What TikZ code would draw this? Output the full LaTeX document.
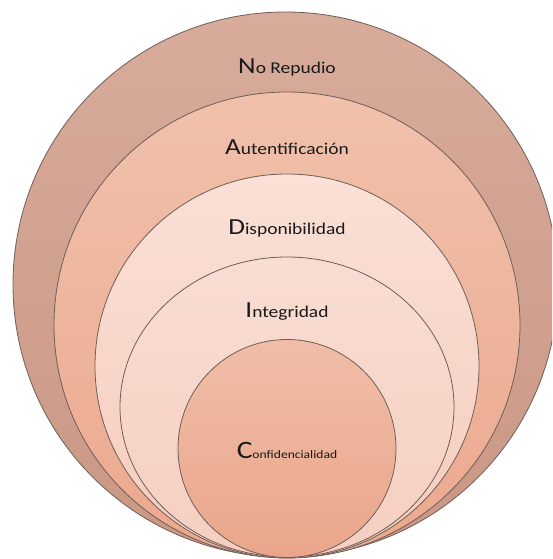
\documentclass[tikz,border=0pt]{standalone}
\usepackage{fontspec}
\usepackage{graphicx}
\setmainfont{Carlito}
\usetikzlibrary{shapes.geometric}

% fills of the nested layers, lighter at the top
\definecolor{ringedge}{HTML}{6E5E58}
\definecolor{oneTop}{HTML}{D8AB9B}
\definecolor{oneBot}{HTML}{CA9784}
\definecolor{twoTop}{HTML}{F1C1AC}
\definecolor{twoBot}{HTML}{EBA88D}
\definecolor{threeTop}{HTML}{FAE0D6}
\definecolor{threeBot}{HTML}{F5CCBD}
\definecolor{fourTop}{HTML}{F9DDD2}
\definecolor{fourBot}{HTML}{F5CFC1}
\definecolor{fiveTop}{HTML}{F0BDA8}
\definecolor{fiveBot}{HTML}{EAA68A}
\definecolor{labeltext}{HTML}{1A1A1A}

% caption: large first letter, smaller rest, set a little wide
\newcommand{\layercaption}[4]{\scalebox{1.18}[1]{{\fontsize{#1}{#1}\selectfont #2}{\fontsize{#3}{#3}\selectfont #4}}}

\begin{document}
\begin{tikzpicture}[x=1pt,y=-1pt,
  layer/.style={circle, draw=ringedge, line width=0.8pt, inner sep=0pt, outer sep=0pt},
  oval/.style={ellipse, draw=ringedge, line width=0.8pt, inner sep=0pt, outer sep=0pt},
  tag/.style={text=labeltext, inner sep=1pt, anchor=center}]
\useasboundingbox (0,0) rectangle (552,559);
\clip (0,0) rectangle (552,559);

% nested layers, all touching at the bottom
\node[layer, minimum size=545pt, top color=oneTop, bottom color=oneBot]
  (norepudio) at (285.5,284.5) {};
\node[layer, minimum size=466pt, top color=twoTop, bottom color=twoBot]
  (autent) at (287,325) {};
\node[layer, minimum size=384pt, top color=threeTop, bottom color=threeBot]
  (dispon) at (287,366) {};
\node[oval, minimum width=334pt, minimum height=300pt, top color=fourTop, bottom color=fourBot]
  (integ) at (287,407) {};
\node[layer, minimum size=218pt, top color=fiveTop, bottom color=fiveBot]
  (confid) at (287,448.5) {};

% layer captions
\node[tag] (lnorep) at (287,67) {\layercaption{23}{N}{16.5}{o Repudio}};
\node[tag] (laut) at (287,147) {\layercaption{23}{A}{16.5}{utentificación}};
\node[tag] (ldis) at (287,228) {\layercaption{23}{D}{16.5}{isponibilidad}};
\node[tag] (lint) at (287,312) {\layercaption{23}{I}{16.5}{ntegridad}};
\node[tag] (lconf) at (287,450) {\layercaption{25}{C}{11.5}{onfidencialidad}};
\end{tikzpicture}
\end{document}
